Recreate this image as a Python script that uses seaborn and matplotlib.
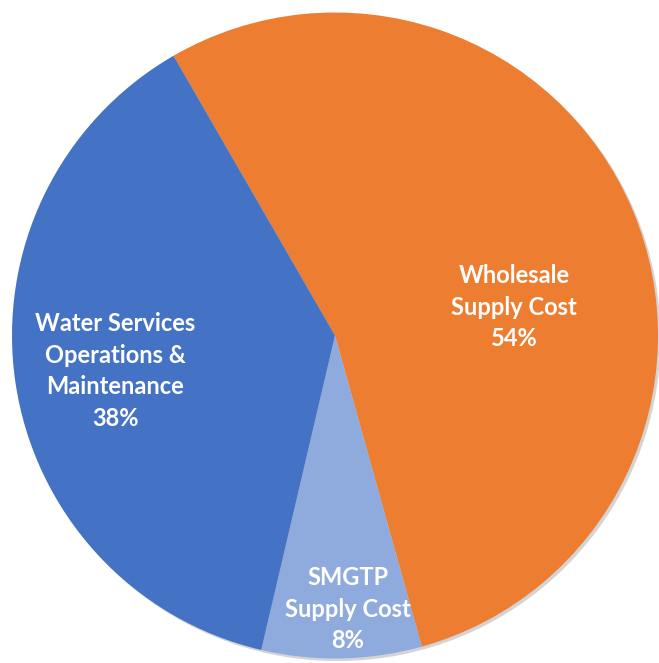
import matplotlib
matplotlib.use("Agg")
import matplotlib.pyplot as plt
from matplotlib.patches import Circle
import seaborn as sns

categories = ["Wholesale\nSupply Cost", "SMGTP\nSupply Cost", "Water Services\nOperations &\nMaintenance"]
shares = [54, 8, 38]
colors = ["#ED7D31", "#8FAADC", "#4472C4"]
label_xy = [(0.554, 0.088), (0.040, -0.847), (-0.681, -0.110)]

sns.set_theme(style="white")
plt.rcParams["font.family"] = ["Lato", "DejaVu Sans"]

W, H = 659, 663
cx, cy, r = 335, 335.5, 323
fig = plt.figure(figsize=(W / 100, H / 100), dpi=100)
ax = fig.add_axes([0, 0, 1, 1])

# soft drop shadow under the pie
ax.add_patch(Circle((0.008, -0.008), 1.0, color="#b8b8b8", alpha=0.6, zorder=0, lw=0))

wedges, _ = ax.pie(shares, colors=colors, startangle=120, counterclock=False,
                   radius=1.0, wedgeprops=dict(linewidth=0))
for w in wedges:
    w.set_zorder(1)

for cat, val, (x, y) in zip(categories, shares, label_xy):
    ax.text(x, y, f"{cat}\n{val}%", ha="center", va="center", color="white",
            fontsize=17, fontweight="bold", linespacing=1.45, zorder=3)

ax.set_aspect("auto")
ax.set_xlim(-cx / r, (W - cx) / r)
ax.set_ylim(-(H - cy) / r, cy / r)
ax.axis("off")
fig.savefig("out.png", dpi=100)
